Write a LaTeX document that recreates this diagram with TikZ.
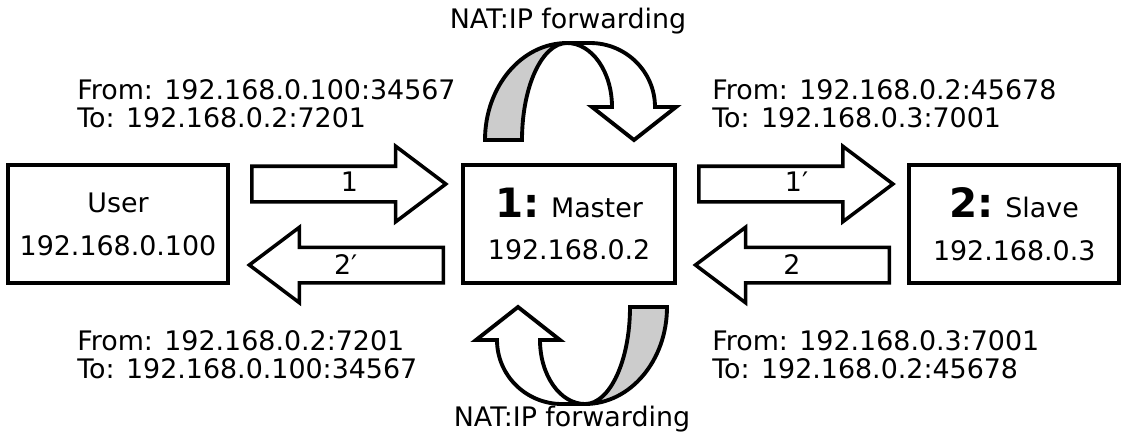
\documentclass[tikz,border=0pt]{standalone}
\usepackage{fontspec}
\setmainfont{DejaVu Sans}
\usetikzlibrary{shapes.arrows,positioning,calc}

\newcommand\hostnum[1]{{\fontsize{23}{24.4}\selectfont\bfseries #1}}

\begin{document}
\begin{tikzpicture}[
  x=0.02cm, y=-0.02cm,
  every node/.style={font=\fontsize{15.3}{17.6}\selectfont},
  hostbox/.style={rectangle, draw, line width=2.4pt, minimum height=2.36cm,
    align=center, font=\fontsize{15.3}{24.4}\selectfont},
  flowarrow/.style={single arrow, draw, line width=2pt, anchor=tail,
    inner xsep=0pt, inner ysep=0.32cm, minimum height=3.88cm,
    single arrow head extend=0.4cm, single arrow tip angle=74},
  addr/.style={align=left, anchor=west, inner sep=0pt,
    font=\fontsize{15.3}{15.9}\selectfont},
  natarrow/.style={draw, line width=2.2pt, line join=miter},
]
\useasboundingbox (0,0) rectangle (1123,441);

% Hosts
\node[hostbox, minimum width=4.4cm] (user) at (118,224) {User\\192.168.0.100};
\node[hostbox, minimum width=4.24cm, right=4.62cm of user] (master)
  {\hostnum{1:} Master\\192.168.0.2};
\node[hostbox, minimum width=4.2cm, right=4.6cm of master] (slave)
  {\hostnum{2:} Slave\\192.168.0.3};

% Block arrows between the hosts
\node[flowarrow] (fwd1) at ($(user.east)+(20,-40)$) {};
\node[flowarrow, shape border rotate=180] (back1) at ($(master.west)+(-16,41)$) {};
\node[flowarrow] (fwd2) at ($(master.east)+(20,-40)$) {};
\node[flowarrow, shape border rotate=180] (back2) at ($(slave.west)+(-16,41)$) {};

\node (fwd1l) at ($(fwd1.tail)!0.5!(fwd1.tip)+(0,-2)$) {1};
\node (back1l) at ($(back1.tail)!0.5!(back1.tip)$) {2′};
\node (fwd2l) at ($(fwd2.tail)!0.5!(fwd2.tip)+(0,-2)$) {1′};
\node (back2l) at ($(back2.tail)!0.5!(back2.tip)$) {2};

% Addresses
\node[addr] (req1) at (77,104) {From: 192.168.0.100:34567\\To: 192.168.0.2:7201};
\node[addr] (req2) at (712,104) {From: 192.168.0.2:45678\\To: 192.168.0.3:7001};
\node[addr] (resp2) at (712,355) {From: 192.168.0.3:7001\\To: 192.168.0.2:45678};
\node[addr] (resp1) at (77,355) {From: 192.168.0.2:7201\\To: 192.168.0.100:34567};

% NAT loops above and below the master
\foreach \ang in {0,180} {
  \begin{scope}[rotate around={\ang:(576,223.5)}]
    \draw[natarrow, fill=gray!40] (485,140)
      arc[start angle=180, end angle=270, x radius=82, y radius=97]
      arc[start angle=270, end angle=180, x radius=45, y radius=97] -- cycle;
    \draw[natarrow, fill=white] (567,43) -- (590,43)
      arc[start angle=270, end angle=360, x radius=65, y radius=64]
      -- (676,107) -- (634,140) -- (592,107) -- (612,107)
      arc[start angle=0, end angle=-90, x radius=45, y radius=64] -- cycle;
  \end{scope}
}
\node[anchor=base, inner sep=0pt] (nattop) at (568,28) {NAT:IP forwarding};
\node[anchor=base, inner sep=0pt] (natbot) at (572,426) {NAT:IP forwarding};

\end{tikzpicture}
\end{document}
